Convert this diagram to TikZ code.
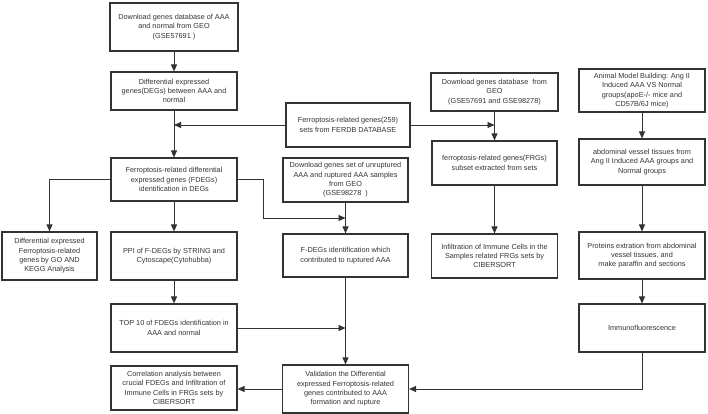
\documentclass[tikz,border=0pt]{standalone}
\usepackage{fontspec}
\setmainfont{Liberation Sans}
\usetikzlibrary{arrows.meta,calc}
\definecolor{ink}{HTML}{333333}
\tikzset{
  box/.style={draw=ink, line width=1.1pt, align=center, text=ink,
    font=\fontsize{7.3pt}{9.3pt}\selectfont, inner sep=2pt},
  arr/.style={draw=ink, line width=0.9pt, -{Triangle[length=7pt,width=6pt]}}
}
\begin{document}
\begin{tikzpicture}[x=1pt,y=-1pt]
\useasboundingbox (0,0) rectangle (708,414);
\node[box, minimum width=128, minimum height=48] (b1) at (174,27) {Download genes database of AAA\\and normal from GEO\\(GSE57691 )};
\node[box, minimum width=126, minimum height=38] (b2) at (174,91) {Differential expressed\\genes(DEGs) between AAA and\\normal};
\node[box, minimum width=124, minimum height=44] (fe) at (348,125) {Ferroptosis-related genes(259)\\sets from FERDB DATABASE};
\node[box, minimum width=127, minimum height=38] (b4) at (494.5,92) {Download genes database\ \ from\\GEO\\(GSE57691 and GSE98278)};
\node[box, minimum width=125, minimum height=44] (b5) at (494.5,163) {ferroptosis-related genes(FRGs)\\subset extracted from sets};
\node[box, minimum width=126, minimum height=43] (b6) at (642,90.5) {Animal Model Building: Ang II\\Induced AAA VS Normal\\groups(apoE-/- mice and\\CD57B/6J mice)};
\node[box, minimum width=126, minimum height=46] (b7) at (642,162) {abdominal vessel tissues from\\Ang II Induced AAA groups and\\Normal groups};
\node[box, minimum width=126, minimum height=43] (b8) at (174,179.5) {Ferroptosis-related differential\\expressed genes (FDEGs)\\identification in DEGs};
\node[box, minimum width=125, minimum height=44] (b9) at (345.5,180) {Download genes set of unruptured\\AAA and ruptured AAA samples\\from GEO\\(GSE98278\ \ )};
\node[box, minimum width=95, minimum height=48] (b10) at (49.5,256) {Differential expressed\\Ferroptosis-related\\genes by GO AND\\KEGG Analysis};
\node[box, minimum width=126, minimum height=48] (b11) at (174,256) {PPI of F-DEGs by STRING and\\Cytoscape(Cytohubba)};
\node[box, minimum width=125, minimum height=43] (b12) at (345.5,255.5) {F-DEGs identification which\\contributed to ruptured AAA};
\node[box, minimum width=126, minimum height=44] (b13) at (494.5,256) {Infiltration of Immune Cells in the\\Samples related FRGs sets by\\CIBERSORT};
\node[box, minimum width=126, minimum height=47] (b14) at (642,255.5) {Proteins extration from abdominal\\vessel tissues, and\\make paraffin and sections};
\node[box, minimum width=126, minimum height=48] (b15) at (642,328) {Immunofluorescence};
\node[box, minimum width=126, minimum height=48] (b16) at (174,328) {TOP 10 of FDEGs identification in\\AAA and normal};
\node[box, minimum width=126, minimum height=44] (b17) at (174,388) {Correlation analysis between\\crucial FDEGs and Infiltration of\\Immune Cells in FRGs sets by\\CIBERSORT};
\node[box, minimum width=126, minimum height=48] (b18) at (345.5,389) {Validation the Differential\\expressed Ferroptosis-related\\genes contributed to AAA\\formation and rupture};
% connectors
\draw[arr] (b1.south) -- (b2.north);
\draw[arr] (b2.south) -- (b8.north);
\draw[arr] (fe.west) -- (fe.west -| b2.south);
\draw[arr] (fe.east) -- (fe.east -| b4.south);
\draw[arr] (b4.south) -- (b5.north);
\draw[arr] (b5.south) -- (b13.north);
\draw[arr] (b6.south) -- (b7.north);
\draw[arr] (b7.south) -- (b14.north);
\draw[arr] (b14.south) -- (b15.north);
\draw[arr] (b8.west) -| (b10.north);
\draw[arr] (b8.south) -- (b11.north);
\draw[arr] (b11.south) -- (b16.north);
\draw[arr] (b8.east) -- ++(26,0) |- ($(b9.south)!0.5!(b12.north)$);
\draw[arr] (b9.south) -- (b12.north);
\draw[arr] (b12.south) -- (b18.north);
\draw[arr] (b16.east) -- (b16.east -| b12.south);
\draw[arr] (b18.west) -- (b18.west -| b17.east);
\draw[arr] (b15.south) |- (b18.east);
\end{tikzpicture}
\end{document}
